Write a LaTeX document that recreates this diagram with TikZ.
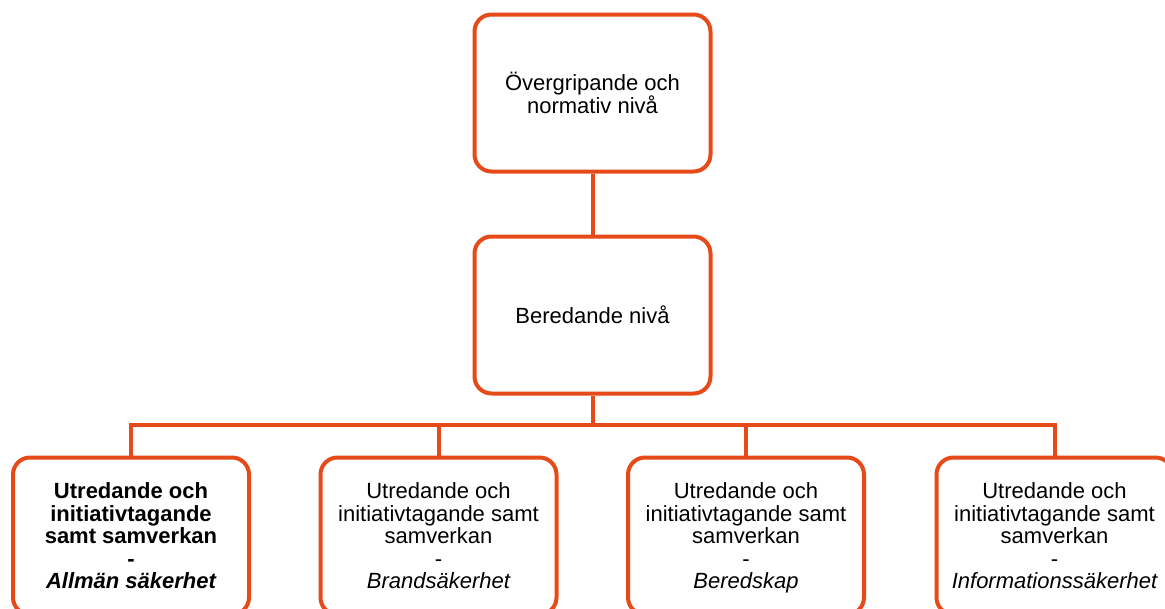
\documentclass[tikz,border=0pt]{standalone}
\usepackage{fontspec}
\setmainfont{Liberation Sans}
\definecolor{orng}{RGB}{230,74,25}
\begin{document}
\begin{tikzpicture}[x=1pt,y=-1pt,
  box/.style={draw=orng, line width=4pt, rounded corners=17pt, fill=white,
    minimum width=236pt, minimum height=157pt, inner sep=0pt, align=center,
    font=\fontsize{22}{22.5}\selectfont},
  conn/.style={draw=orng, line width=4pt}]
\useasboundingbox (0,0) rectangle (1165,608);
\clip (0,0) rectangle (1165,608);
\node[box] (top) at (592.5,93) {Övergripande och\\normativ nivå};
\node[box] (mid) at (592.5,315) {Beredande nivå};
\node[box] (b1) at (131,536) {\bfseries Utredande och\\\bfseries initiativtagande\\\bfseries samt samverkan\\\bfseries -\\\bfseries\itshape Allmän säkerhet};
\node[box] (b2) at (438.5,536) {Utredande och\\initiativtagande samt\\samverkan\\-\\\itshape Brandsäkerhet};
\node[box] (b3) at (746,536) {\rule{0pt}{20pt}Utredande och\\initiativtagande samt\\samverkan\\-\\\itshape Beredskap};
\node[box] (b4) at (1054.5,536) {Utredande och\\initiativtagande samt\\samverkan\\-\\\itshape Informationssäkerhet};
\coordinate (bar) at (592.5,425);
\draw[conn] (top) -- (mid);
\draw[conn] (mid) -- (bar);
\draw[conn] (b1.north) |- (bar) -| (b4.north);
\draw[conn] (b2.north) -- (b2.north |- bar);
\draw[conn] (b3.north) -- (b3.north |- bar);
\end{tikzpicture}
\end{document}
